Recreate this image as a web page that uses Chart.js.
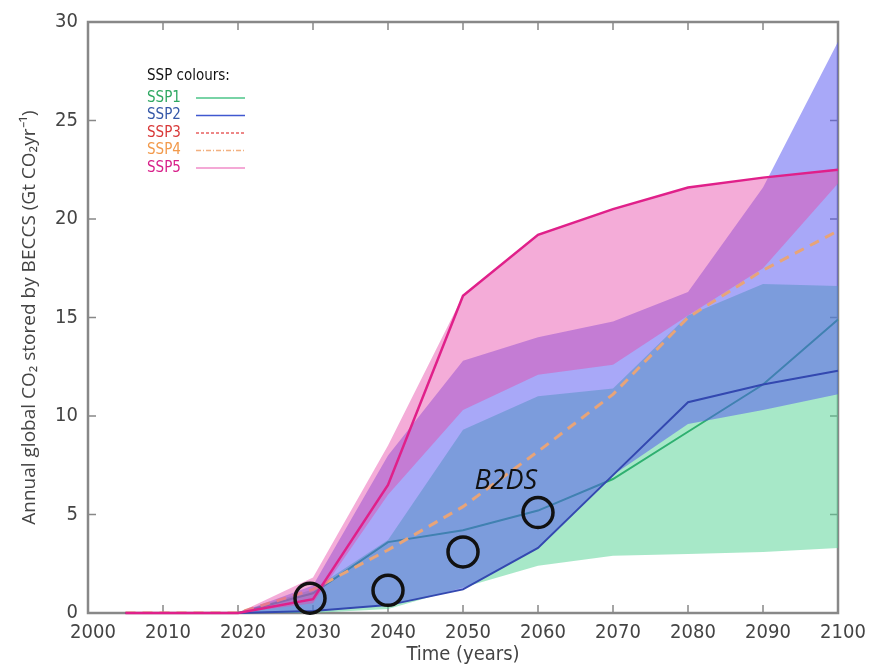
<!DOCTYPE html>
<html>
<head>
<meta charset="utf-8">
<script src="https://cdn.jsdelivr.net/npm/chart.js@4.4.0/dist/chart.umd.min.js"></script>
<style>body{margin:0;background:#fff}</style>
</head>
<body>
<canvas id="myChart" width="871" height="667"></canvas>
<script>
// years and values (Gt CO2 / yr)
const years = [2005, 2010, 2020, 2030, 2040, 2050, 2060, 2070, 2080, 2090, 2100];

const ssp1Median = [0, 0, 0, 1.0, 3.6, 4.2, 5.2, 6.8, 9.2, 11.6, 14.9];
const ssp2Median = [0, 0, 0, 0.1, 0.4, 1.2, 3.3, 7.0, 10.7, 11.6, 12.3];
const ssp3Median = [0, 0, 0, null, null, null, null, null, null, null, null];
const ssp4Median = [0, 0, 0, 1.2, 3.2, 5.4, 8.2, 11.1, 15.0, 17.4, 19.4];
const ssp5Median = [0, 0, 0, 0.7, 6.5, 16.1, 19.2, 20.5, 21.6, 22.1, 22.5];

const ssp1Low  = [0, 0, 0, 0, 0.2, 1.3, 2.4, 2.9, 3.0, 3.1, 3.3];
const ssp1High = [0, 0, 0, 1.2, 3.7, 9.3, 11.0, 11.4, 15.1, 16.7, 16.6];
const ssp2Low  = [0, 0, 0, 0.1, 0.4, 1.2, 3.3, 7.0, 9.6, 10.3, 11.1];
const ssp2High = [0, 0, 0, 1.4, 8.0, 12.8, 14.0, 14.8, 16.3, 21.6, 29.0];
const ssp5Low  = [0, 0, 0, 0.5, 6.0, 10.3, 12.1, 12.6, 15.1, 17.5, 21.8];
const ssp5High = [0, 0, 0, 1.8, 8.5, 16.1, 19.2, 20.5, 21.6, 22.1, 22.5];

const b2dsYears = [2029.6, 2040, 2050, 2060];
const b2dsValues = [0.75, 1.15, 3.1, 5.1];

const xTicks = [2000, 2010, 2020, 2030, 2040, 2050, 2060, 2070, 2080, 2090, 2100];
const yTicks = [0, 5, 10, 15, 20, 25, 30];

const legendItems = [
  { label: 'SSP1', text: '#2fa862', line: '#4cc488', dash: [] },
  { label: 'SSP2', text: '#3558a8', line: '#4058d0', dash: [] },
  { label: 'SSP3', text: '#d83838', line: '#e86060', dash: [3, 2] },
  { label: 'SSP4', text: '#f29a4c', line: '#f2b080', dash: [5, 2, 1, 2] },
  { label: 'SSP5', text: '#d8208a', line: '#f08cc8', dash: [] }
];

const narrow = '"Liberation Sans Narrow", "DejaVu Sans Condensed", sans-serif';

const pts = arr => years.map((x, i) => ({ x: x, y: arr[i] }));

const hidden = { borderColor: 'transparent', pointRadius: 0, borderWidth: 0, fill: false };

const frameAndText = {
  id: 'frameAndText',
  beforeDatasetsDraw(chart) {
    const { ctx, chartArea: a, scales: { x, y } } = chart;
    ctx.save();
    // frame with inward ticks
    ctx.strokeStyle = '#888';
    ctx.lineWidth = 1.5;
    ctx.beginPath();
    xTicks.forEach(v => {
      const px = x.getPixelForValue(v);
      ctx.moveTo(px, a.bottom); ctx.lineTo(px, a.bottom - 8);
      ctx.moveTo(px, a.top); ctx.lineTo(px, a.top + 8);
    });
    yTicks.forEach(v => {
      const py = y.getPixelForValue(v);
      ctx.moveTo(a.left, py); ctx.lineTo(a.left + 8, py);
      ctx.moveTo(a.right, py); ctx.lineTo(a.right - 8, py);
    });
    ctx.stroke();
    ctx.lineWidth = 2.5;
    ctx.strokeRect(a.left, a.top, a.right - a.left, a.bottom - a.top);
    ctx.restore();
  },
  afterDraw(chart) {
    const { ctx, scales: { x, y } } = chart;
    ctx.save();
    // legend
    ctx.textBaseline = 'middle';
    ctx.textAlign = 'left';
    ctx.font = '15px ' + narrow;
    ctx.fillStyle = '#111';
    ctx.fillText('SSP colours:', 147, 76);
    legendItems.forEach((it, i) => {
      const ly = 98 + i * 17.5;
      ctx.fillStyle = it.text;
      ctx.fillText(it.label, 147, ly);
      ctx.strokeStyle = it.line;
      ctx.lineWidth = 1.5;
      ctx.setLineDash(it.dash);
      ctx.beginPath();
      ctx.moveTo(196, ly); ctx.lineTo(245, ly);
      ctx.stroke();
    });
    ctx.setLineDash([]);

    // B2DS label
    ctx.fillStyle = '#111';
    ctx.textAlign = 'center';
    ctx.font = 'italic 27px "Open Sans", sans-serif';
    ctx.fillText('B2DS', x.getPixelForValue(2055.7), y.getPixelForValue(6.7));
    ctx.restore();
  }
};

new Chart(document.getElementById('myChart'), {
  type: 'line',
  data: {
    datasets: [
      // SSP1 band
      { data: pts(ssp1Low), ...hidden, order: 40 },
      { data: pts(ssp1High), ...hidden, fill: { target: 0 }, backgroundColor: 'rgba(80,209,145,0.5)', order: 40 },
      // SSP1 median (under the blue band)
      { data: pts(ssp1Median), borderColor: '#2fb070', borderWidth: 2, pointRadius: 0, fill: false, clip: 4, order: 35 },
      // SSP2 band
      { data: pts(ssp2Low), ...hidden, order: 30 },
      { data: pts(ssp2High), ...hidden, fill: { target: 3 }, backgroundColor: 'rgba(81,81,241,0.5)', order: 30 },
      // SSP2, SSP3, SSP4 medians
      { data: pts(ssp2Median), borderColor: '#3348b0', borderWidth: 2, pointRadius: 0, fill: false, clip: 4, order: 25 },
      { data: pts(ssp3Median), borderColor: '#e04848', borderWidth: 2, borderDash: [3, 2], pointRadius: 0, fill: false, clip: 4, order: 25 },
      { data: pts(ssp4Median), borderColor: '#e8a478', borderWidth: 3, borderDash: [10, 7], pointRadius: 0, fill: false, order: 25 },
      // SSP5 band
      { data: pts(ssp5Low), ...hidden, order: 20 },
      { data: pts(ssp5High), ...hidden, fill: { target: 8 }, backgroundColor: 'rgba(231,71,169,0.45)', order: 20 },
      // SSP5 median
      { data: pts(ssp5Median), borderColor: '#e0208a', borderWidth: 2.5, pointRadius: 0, fill: false, clip: 4, order: 5 },
      // B2DS circles
      {
        data: b2dsYears.map((x, i) => ({ x: x, y: b2dsValues[i] })),
        showLine: false, pointRadius: 15, pointHoverRadius: 15, pointBorderWidth: 3.5,
        pointBorderColor: '#111', pointBackgroundColor: 'transparent', clip: 20, order: 1
      }
    ]
  },
  options: {
    responsive: false,
    animation: false,
    layout: { padding: { top: 18, right: 33, left: 0, bottom: 0 } },
    plugins: { legend: { display: false }, tooltip: { enabled: false } },
    elements: { line: { tension: 0 } },
    scales: {
      x: {
        type: 'linear', min: 2000, max: 2100,
        afterFit: s => { s.height = 54; },
        afterBuildTicks: s => { s.ticks = xTicks.map(v => ({ value: v })); },
        grid: { display: false, drawTicks: false },
        border: { display: false },
        ticks: { padding: 8, labelOffset: 5, color: '#444', maxRotation: 0,
          font: { family: narrow, size: 20 },
          callback: v => String(v) },
        title: { display: true, text: 'Time (years)', color: '#444', padding: { top: 0, bottom: 0 },
          font: { family: narrow, size: 20 } }
      },
      y: {
        min: 0, max: 30,
        afterFit: s => { s.width = 88; },
        afterBuildTicks: s => { s.ticks = yTicks.map(v => ({ value: v })); },
        grid: { display: false, drawTicks: false },
        border: { display: false },
        ticks: { padding: 10, color: '#444',
          font: { family: narrow, size: 20 } },
        title: { display: true, text: 'Annual global CO\u2082 stored by BECCS (Gt CO\u2082yr\u207B\u00B9)', color: '#444',
          padding: { top: 18, bottom: 0 },
          font: { family: '"Open Sans", sans-serif', size: 19 } }
      }
    }
  },
  plugins: [frameAndText]
});
</script>
</body>
</html>
